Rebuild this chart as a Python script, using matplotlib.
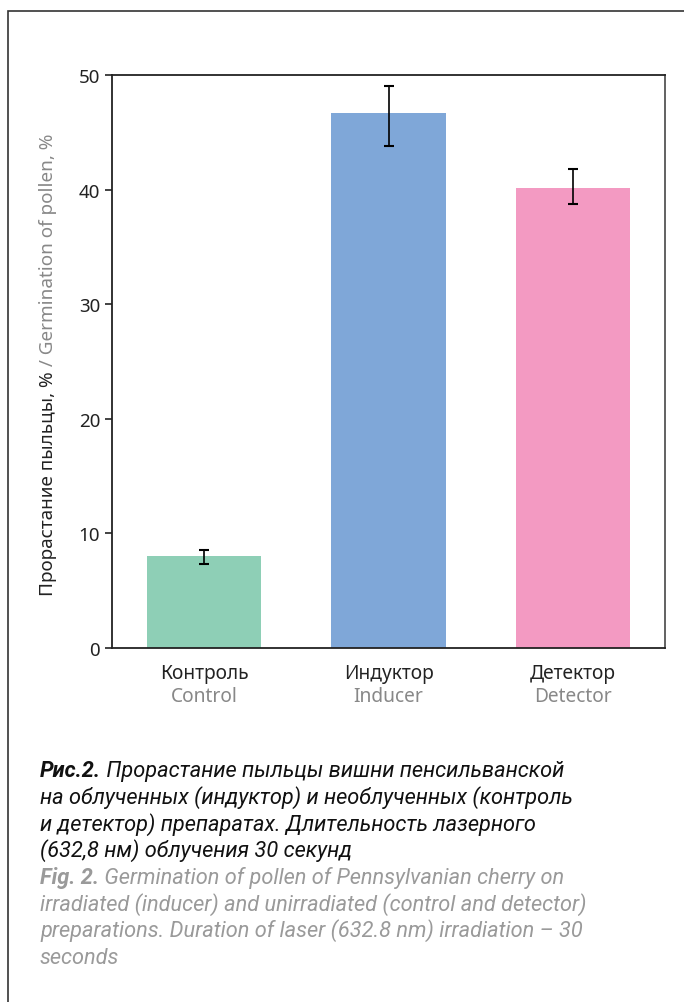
import matplotlib
matplotlib.use("Agg")
import matplotlib.pyplot as plt
from matplotlib.patches import Rectangle

plt.rcParams['font.family'] = ['Noto Sans', 'DejaVu Sans']

# data
cats_ru = ["Контроль", "Индуктор", "Детектор"]
cats_en = ["Control", "Inducer", "Detector"]
values = [8.0, 46.7, 40.1]
err_low = [0.7, 2.9, 1.4]
err_high = [0.55, 2.3, 1.7]
colors = ["#8ecfb6", "#7fa7d8", "#f39ac2"]
yticks = [0, 10, 20, 30, 40, 50]

fig = plt.figure(figsize=(6.84, 10.03), dpi=100)
W, H = 684, 1003

# outer frame (cut at right and bottom)
fig.add_artist(Rectangle((8 / W, -0.05), 1.0, (H - 12) / H + 0.05, transform=fig.transFigure,
                         fill=False, edgecolor="#333333", linewidth=1.2))

ax = fig.add_axes([112 / W, 1 - 649 / H, (665 - 112) / W, (649 - 76) / H])
x = range(len(values))
ax.bar(x, values, width=0.62, color=colors, zorder=2)
ax.errorbar(x, values, yerr=[err_low, err_high], fmt="none", ecolor="black", elinewidth=1.2,
            capsize=3.3, capthick=1.5, zorder=3)
ax.set_xlim(-0.5, 2.5)
ax.set_ylim(0, 50)
ax.set_yticks(yticks)
ax.tick_params(axis="y", direction="out", length=5, width=1.2, labelsize=13.5, colors="#222222")
ax.tick_params(axis="x", length=0, labelbottom=False)
for s in ax.spines.values():
    s.set_color("#222222")
    s.set_linewidth(1.3)
ax.spines["right"].set_color("#555555")

for i in x:
    ax.annotate(cats_ru[i], xy=(i, 0), xycoords=("data", "axes fraction"), xytext=(0, -10.5),
                textcoords="offset points", ha="center", va="top", fontsize=13.8, color="#222222")
    ax.annotate(cats_en[i], xy=(i, 0), xycoords=("data", "axes fraction"), xytext=(0, -27),
                textcoords="offset points", ha="center", va="top", fontsize=13.8, color="#888888")

# y label in two colours
t1 = fig.text(48 / W, 1 - 596 / H, "Прорастание пыльцы, %", rotation=90, ha="center", va="bottom",
              fontsize=13.6, color="#222222")
ax.annotate(" / Germination of pollen, %", xy=(0.5, 1), xycoords=t1, ha="center", va="bottom",
            rotation=90, fontsize=13.6, color="#888888", annotation_clip=False)

# caption
cap_font = ['Roboto', 'DejaVu Sans']
black_lines = [
    ("Рис.2.", " Прорастание пыльцы вишни пенсильванской"),
    ("", "на облученных (индуктор) и необлученных (контроль"),
    ("", "и детектор) препаратах. Длительность лазерного"),
    ("", "(632,8 нм) облучения 30 секунд"),
]
grey_lines = [
    ("Fig. 2.", " Germination of pollen of Pennsylvanian cherry on"),
    ("", "irradiated (inducer) and unirradiated (control and detector)"),
    ("", "preparations. Duration of laser (632.8 nm) irradiation – 30"),
    ("", "seconds"),
]
y0 = 777
step = 26.7
fs = 15.7
for k, (bold, rest) in enumerate(black_lines + grey_lines):
    col = "#111111" if k < 4 else "#9a9a9a"
    yy = 1 - (y0 + k * step) / H
    if bold:
        tb = fig.text(40 / W, yy, bold, fontsize=fs, fontweight="bold", style="italic",
                      family=cap_font, color=col, va="baseline")
        ax.annotate(rest, xy=(1, 0), xycoords=tb, fontsize=fs, style="italic",
                    family=cap_font, color=col, va="bottom", annotation_clip=False)
    else:
        fig.text(40 / W, yy, rest, fontsize=fs, style="italic", family=cap_font,
                 color=col, va="baseline")

fig.savefig("out.png", dpi=100)
